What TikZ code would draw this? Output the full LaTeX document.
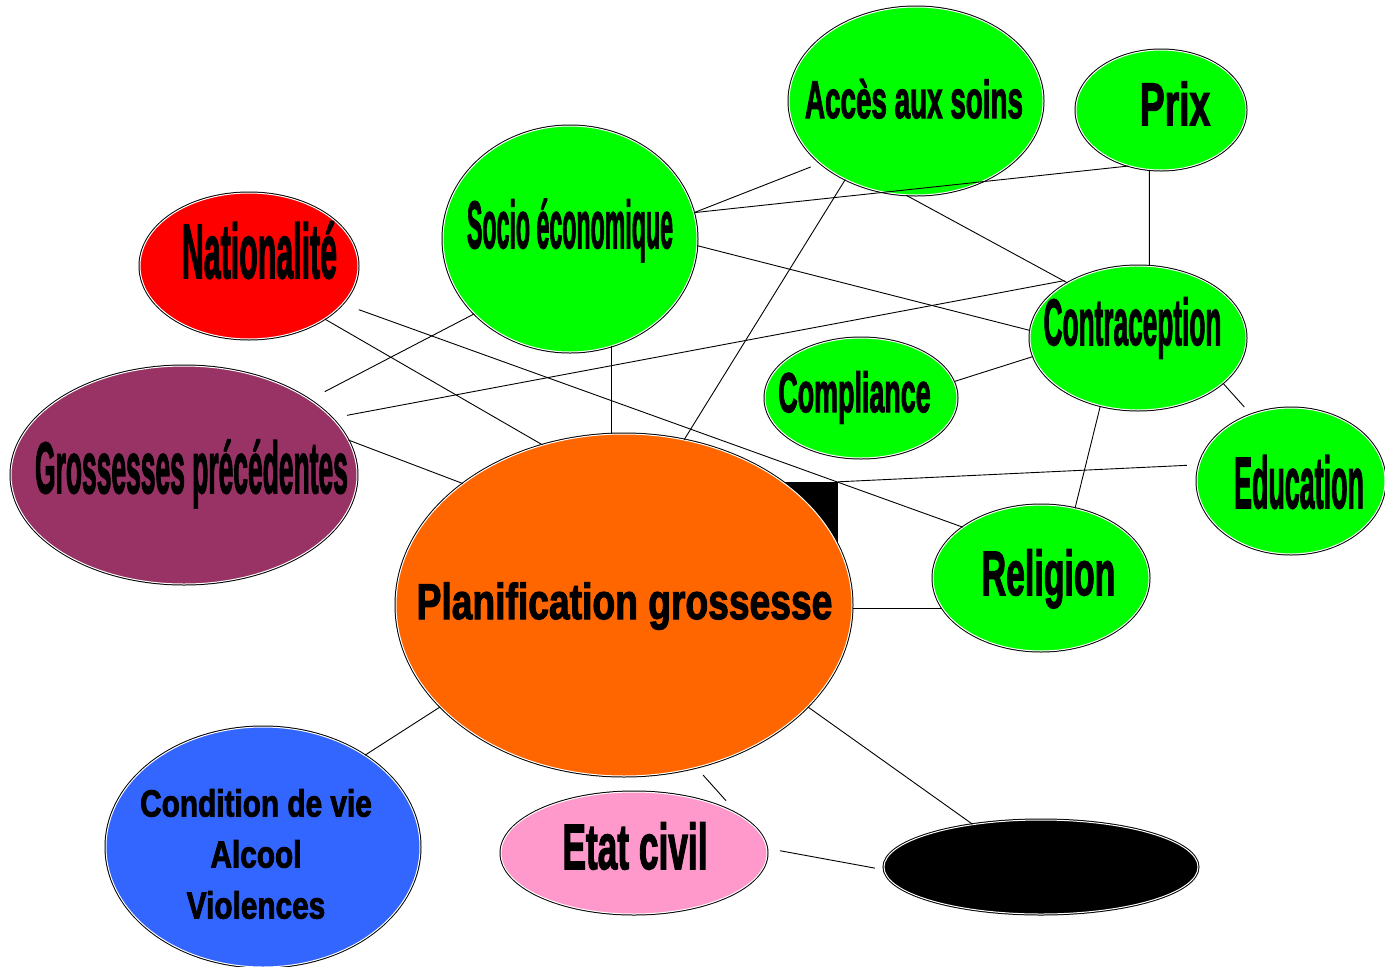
\documentclass[tikz,border=0pt]{standalone}
\usepackage{fontspec}
\usepackage{graphicx}
\setmainfont{Liberation Sans}[BoldFeatures={FakeBold=2.5}]
\usetikzlibrary{shapes.geometric}

\definecolor{vert}{HTML}{00FF00}
\definecolor{rouge}{HTML}{FF0000}
\definecolor{orange}{HTML}{FF6600}
\definecolor{prune}{HTML}{993366}
\definecolor{bleu}{HTML}{3366FF}
\definecolor{rose}{HTML}{FF99CC}

% etiquette : facteur horizontal, corps (pt), texte
\newcommand{\etiq}[3]{{\bfseries\fontsize{#2}{#2}\selectfont\scalebox{#1}[1]{#3}}}

\tikzset{
  bulle/.style={ellipse, inner sep=0pt, draw=white, line width=1pt,
    preaction={draw=black, line width=3pt}},
  lien/.style={draw=black, line width=0.9pt},
  texte/.style={anchor=base, inner sep=0pt},
}

\begin{document}
\begin{tikzpicture}[x=1pt, y=-1pt]
\fill[white] (0,0) rectangle (1385,967);
\useasboundingbox (0,0) rectangle (1385,967);

% bulles
\node[bulle, fill=vert, minimum width=254, minimum height=188] (acces) at (916,101) {};
\node[bulle, fill=vert, minimum width=170, minimum height=120] (prix) at (1161,110) {};
\node[bulle, fill=vert, minimum width=254, minimum height=226] (socio) at (570,239) {};
\node[bulle, fill=rouge, minimum width=218, minimum height=146] (nat) at (249,266) {};
\node[bulle, fill=vert, minimum width=216, minimum height=144] (contra) at (1138,338) {};
\node[bulle, fill=vert, minimum width=192, minimum height=120] (compl) at (861,398) {};
\node[bulle, fill=prune, minimum width=346, minimum height=218] (gross) at (184,475) {};
\node[bulle, fill=vert, minimum width=188, minimum height=146] (educ) at (1291,481) {};
\node[fill=black, inner sep=0pt, minimum width=56, minimum height=65] (marque) at (810,514.5) {};
\node[bulle, fill=orange, minimum width=456, minimum height=342] (plan) at (624,605) {};
\node[bulle, fill=vert, minimum width=216, minimum height=146] (relig) at (1041,578) {};
\node[bulle, fill=bleu, minimum width=314, minimum height=240] (cond) at (263,847) {};
\node[bulle, fill=rose, minimum width=266, minimum height=122] (etat) at (634,853) {};
\node[bulle, fill=black, minimum width=314, minimum height=94] (noir) at (1041,867) {};

% textes
\node[texte] (accesT) at (914,118) {\etiq{0.525}{53}{Accès aux soins}};
\node[texte] (prixT) at (1175,125) {\etiq{0.62}{60}{Prix}};
\node[texte] (socioT) at (570,248) {\etiq{0.346}{67}{Socio économique}};
\node[texte] (natT) at (259.5,278) {\etiq{0.395}{76.8}{Nationalité}};
\node[texte] (contraT) at (1132.5,345) {\etiq{0.40}{65.6}{Contraception}};
\node[texte] (complT) at (854.5,412) {\etiq{0.48}{56}{Compliance}};
\node[texte] (grossT) at (191.5,493) {\etiq{0.364}{72.6}{Grossesses précédentes}};
\node[texte] (educT) at (1299,508) {\etiq{0.37}{72.6}{Education}};
\node[texte] (planT) at (624.5,619) {\etiq{0.74}{50.3}{Planification grossesse}};
\node[texte] (religT) at (1048.5,595) {\etiq{0.54}{62.8}{Religion}};
\node[texte] (etatT) at (635,869) {\etiq{0.55}{64.2}{Etat civil}};
\node[inner sep=0pt, align=center, font=\bfseries\fontsize{37.7}{51}\selectfont] (condT) at (256,854)
  {\scalebox{0.79}[1]{Condition de vie}\\\scalebox{0.79}[1]{Alcool}\\\scalebox{0.79}[1]{Violences}};

% liens
\draw[lien, shorten >=10pt] (socio.12) -- (acces.213);
\draw[lien] (socio.12) -- (prix.240);
\draw[lien] (acces.264) -- (contra.142);
\draw[lien] (prix.259) -- (contra.81);
\draw[lien] (socio.-3) -- (contra.176);
\draw[lien, shorten <=15pt, shorten >=12pt] (gross.21) -- (contra.136);
\draw[lien, shorten >=17pt] (socio.218) -- (gross.31);
\draw[lien] (nat.-35) -- (plan.117);
\draw[lien, shorten <=17pt] (nat.-22) -- (relig.147);
\draw[lien] (gross.12) -- (plan.143);
\draw[lien] (socio.291) -- (socio.291 |- plan.north);
\draw[lien] (acces.228) -- (plan.70);
\draw[lien] (compl.10) -- (contra.190);
\draw[lien, shorten >=10pt] (contra.-28) -- (educ.121);
\draw[lien] (contra.241) -- (relig.64);
\draw[lien, shorten <=12pt] (educ.170) -- (marque.north east);
\draw[lien] (relig.197) -- (relig.197 -| plan.east);
\draw[lien] (plan.209) -- (cond.42);
\draw[lien, shorten <=10pt, shorten >=19pt] (plan.-66) -- (etat.20);
\draw[lien] (plan.-29) -- (noir.148);
\draw[lien, shorten <=13pt, shorten >=9pt] (etat.2) -- (noir.181);
\end{tikzpicture}
\end{document}
